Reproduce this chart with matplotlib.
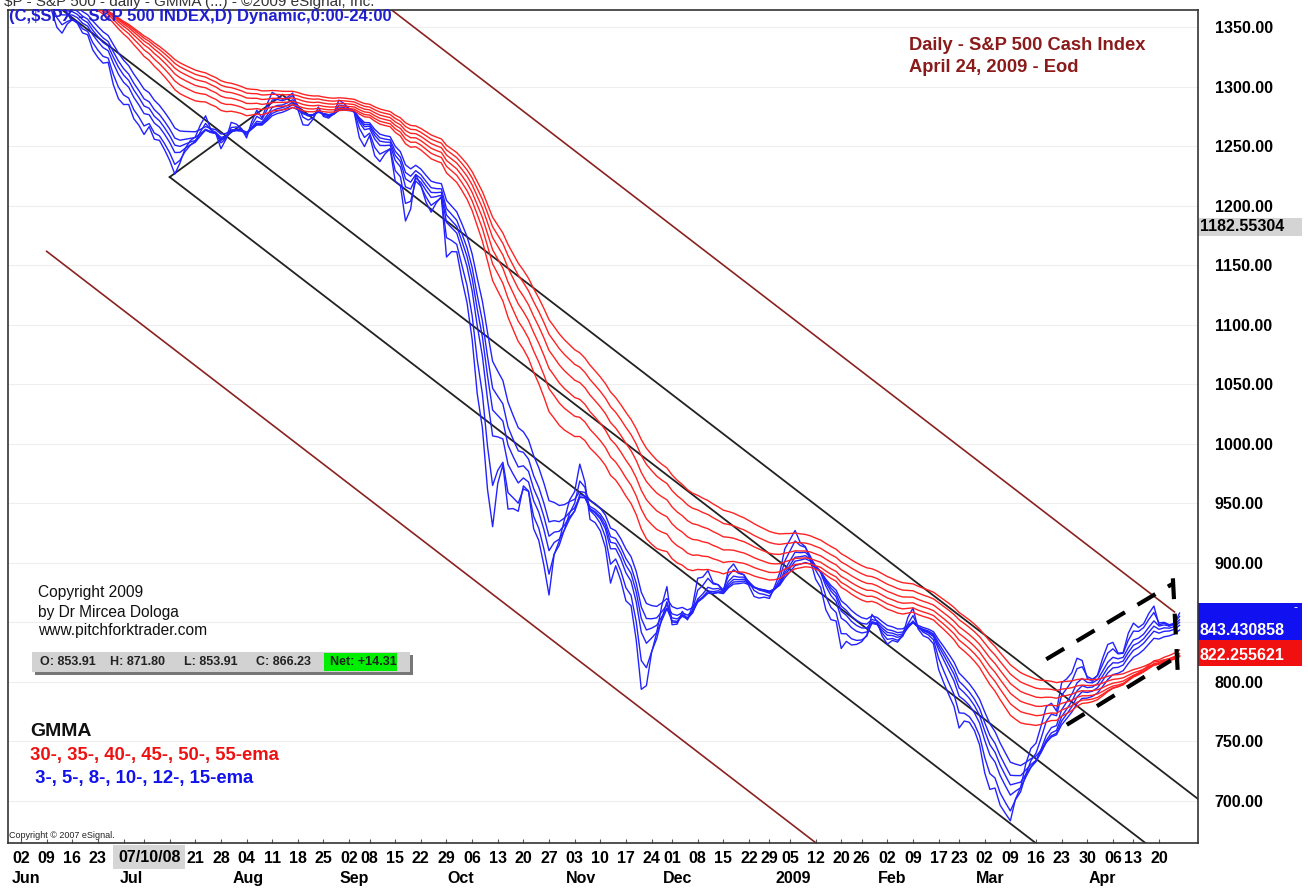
import matplotlib
matplotlib.use("Agg")
import matplotlib.pyplot as plt
import matplotlib.transforms as mtransforms
from matplotlib.patches import Rectangle
import numpy as np
import pandas as pd

plt.rcParams['font.family'] = ['Liberation Sans', 'DejaVu Sans']

# S&P 500 daily closes (read / estimated), Mar 3 2008 - Apr 24 2009
close_2008_mar = [1331, 1327, 1333, 1304, 1293, 1273, 1320, 1309, 1316, 1289,
                  1277, 1330, 1299, 1330, 1349, 1352, 1342, 1325, 1316, 1323]
close_2008_apr = [1370, 1368, 1370, 1370, 1373, 1365, 1355, 1360, 1333, 1329, 1334,
                  1365, 1366, 1390, 1388, 1376, 1380, 1388, 1398, 1397, 1391, 1386]
close_2008_may = [1409, 1414, 1407, 1418, 1392, 1397, 1389, 1404, 1403, 1409, 1424,
                  1426, 1426, 1413, 1391, 1394, 1375, 1385, 1390, 1399, 1400]
close_2008_jun = [1385, 1378, 1377, 1404, 1361, 1361, 1358, 1336, 1340, 1360, 1360,
                  1350, 1337, 1342, 1318, 1318, 1315, 1321, 1283, 1278, 1280]
close_2008_jul = [1285, 1261, 1262, 1252, 1273, 1245, 1254, 1239, 1229, 1215, 1245,
                  1260, 1261, 1261, 1278, 1283, 1253, 1257, 1235, 1264, 1284, 1267]
close_2008_aug = [1261, 1249, 1284, 1290, 1267, 1297, 1305, 1290, 1286, 1293, 1298,
                  1267, 1255, 1267, 1278, 1293, 1267, 1272, 1281, 1300, 1283]
close_2008_sep = [1277, 1275, 1236, 1242, 1268, 1225, 1232, 1250, 1252, 1193, 1214,
                  1157, 1207, 1255, 1208, 1189, 1186, 1210, 1213, 1106, 1166]
close_2008_oct = [1161, 1115, 1099, 1057, 996, 985, 910, 899, 1003, 998, 908, 946,
                  941, 986, 956, 897, 909, 877, 848, 941, 930, 954, 969]
close_2008_nov = [967, 1006, 953, 905, 931, 920, 899, 853, 912, 873, 851, 860, 807,
                  752, 800, 852, 858, 887, 896]
close_2008_dec = [816, 849, 870, 845, 876, 910, 889, 899, 873, 880, 869, 913, 904,
                  885, 888, 871, 863, 869, 872, 869, 890, 903]
close_2009_jan = [932, 927, 935, 907, 910, 890, 871, 872, 842, 844, 850, 805, 840,
                  828, 832, 836, 845, 874, 845, 826]
close_2009_feb = [825, 838, 832, 845, 869, 870, 827, 833, 835, 827, 789, 788, 779,
                  770, 743, 773, 765, 752, 735]
close_2009_mar = [700, 696, 712, 682, 683, 677, 720, 721, 751, 757, 753, 778, 795,
                  785, 769, 823, 806, 813, 832, 816, 788, 798]
close_2009_apr = [811, 834, 843, 835, 815, 825, 857, 858, 842, 852, 866, 870, 832,
                  851, 844, 852, 866.23]

holidays = ["2008-03-21", "2008-05-26", "2008-07-04", "2008-09-01", "2008-11-27",
            "2008-12-25", "2009-01-01", "2009-01-19", "2009-02-16", "2009-04-10"]
start_date = "2008-06-02"

red_spans = [30, 35, 40, 45, 50, 55]
blue_spans = [3, 5, 8, 10, 12, 15]

# pitchfork pivots: trading day index (0 = Jun 2) and price
fork_idx = [3, 29, 51]
fork_px = [1381, 1224, 1293]
warn_start = 5
warn_end = 225

# hand-drawn breakout channel (index, price)
chan_upper = [[200, 224.5], [819, 882]]
chan_lower = [[204, 224.3], [764, 818]]
chan_stop = [[224.7, 225.7], [887, 804]]

y_ticks = np.arange(700, 1351, 50)
ohlc_labels = ["O: 853.91", "H: 871.80", "L: 853.91", "C: 866.23"]
net_label = "Net: +14.31"
last_blue = 843.430858
last_red = 822.255621
cursor_price = 1182.55304
cursor_date = "07/10/08"
cursor_idx = 25

closes = (close_2008_mar + close_2008_apr + close_2008_may + close_2008_jun +
          close_2008_jul + close_2008_aug + close_2008_sep + close_2008_oct +
          close_2008_nov + close_2008_dec + close_2009_jan + close_2009_feb +
          close_2009_mar + close_2009_apr)
dates = pd.bdate_range("2008-03-03", "2009-04-24", freq="C", holidays=holidays)
s = pd.Series(closes, index=dates)
shown = dates >= pd.Timestamp(start_date)
d_shown = dates[shown]
x = np.arange(len(d_shown))

W, H = 1308, 888
fig = plt.figure(figsize=(W / 100, H / 100), dpi=100)
ax = fig.add_axes([8 / W, 45 / H, 1190 / W, 833 / H])
ax.set_xlim(-2.54, 229.6)
ax.set_ylim(664.7, 1364.3)

ax.grid(axis='y', color='#eeeeee', lw=0.8)
ax.set_axisbelow(True)

for n in blue_spans:
    ax.plot(x, s.ewm(span=n, adjust=False).mean()[shown].values, color='#2222ff', lw=1.0, zorder=3)
for n in red_spans:
    ax.plot(x, s.ewm(span=n, adjust=False).mean()[shown].values, color='#ff2222', lw=1.0, zorder=3)

# Andrews pitchfork
a_i, b_i, c_i = fork_idx
a_p, b_p, c_p = fork_px
m_i, m_p = (b_i + c_i) / 2, (b_p + c_p) / 2
slope = (m_p - a_p) / (m_i - a_i)
x_end = 235


def ray(i0, p0, i1=x_end):
    return [i0, i1], [p0, p0 + slope * (i1 - i0)]


ax.plot(*ray(a_i, a_p), color='#222222', lw=1.3, zorder=2)
ax.plot(*ray(b_i, b_p), color='#222222', lw=1.3, zorder=2)
ax.plot(*ray(c_i, c_p), color='#222222', lw=1.3, zorder=2)
ax.plot([b_i, c_i], [b_p, c_p], color='#222222', lw=1.3, zorder=2)
d = c_p - (a_p + slope * (c_i - a_i))
for k in (3, -3):
    p0 = a_p + slope * (warn_start - a_i) + k * d
    ax.plot(*ray(warn_start, p0, warn_end), color='#8b2222', lw=1.2, zorder=2)

for ln in (chan_upper, chan_lower, chan_stop):
    ax.plot(ln[0], ln[1], color='black', lw=3, dashes=(5, 3.5), zorder=4)

# axes styling
for sp in ax.spines.values():
    sp.set_color('#333333')
    sp.set_linewidth(1.2)
ax.yaxis.tick_right()
ax.set_yticks(y_ticks)
# 850 sits under the last-value boxes
ax.set_yticklabels(["" if v == 850 else f"{v:.2f}" for v in y_ticks], fontsize=11.5, fontweight='bold')
ax.tick_params(axis='y', length=0, pad=12)

# x axis: weekly ticks / labels
wk = pd.Series(x, index=d_shown)
week_first = wk.groupby(d_shown.to_period('W')).first()
month_first = wk.groupby(d_shown.to_period('M')).first()
ax.set_xticks(week_first.values)
ax.set_xticklabels([])
ax.tick_params(axis='x', direction='in', length=3, color='#555555')

tr = mtransforms.blended_transform_factory(ax.transData, fig.transFigure)
for per, i in week_first.items():
    if abs(i - cursor_idx) < 7:
        continue  # hidden behind the cursor date box
    ax.text(i, 1 - 858 / H, f"{d_shown[i].day:02d}", transform=tr, ha='center', va='center',
            fontsize=11.5, fontweight='bold', clip_on=False)
for per, i in month_first.items():
    lab = "2009" if (per.month == 1) else d_shown[i].strftime('%b')
    ax.text(i - 1.8, 1 - 878 / H, lab, transform=tr, ha='left', va='center',
            fontsize=11.5, fontweight='bold', clip_on=False)
ax.text(cursor_idx, 1 - 857 / H, cursor_date, transform=tr, ha='center', va='center', fontsize=11.5,
        fontweight='bold', zorder=10, clip_on=False,
        bbox=dict(boxstyle='square,pad=0.3', fc='#d6d6d6', ec='none'))

# right side value boxes
try_ = mtransforms.blended_transform_factory(ax.transAxes, ax.transData)
bw = 104 / 1190
ax.add_patch(Rectangle((1.0, 1174.5), bw, 15.5, transform=try_, fc='#d4d4d4', ec='none', clip_on=False))
ax.text(1.0 + 2 / 1190, cursor_price, f"{cursor_price:.5f}", transform=try_, ha='left', va='center',
        fontsize=11.5, fontweight='bold', clip_on=False)
ax.add_patch(Rectangle((1.0, 835.2), bw, 31.1, transform=try_, fc='#1010f0', ec='none', clip_on=False))
ax.add_patch(Rectangle((1.0, 813.4), bw, 21.8, transform=try_, fc='#f01010', ec='none', clip_on=False))
ax.text(1.0 + 2 / 1190, last_blue, f"{last_blue:.6f}", transform=try_, ha='left', va='center',
        fontsize=11.5, fontweight='bold', color='white', clip_on=False)
ax.text(1.0 + 2 / 1190, last_red, f"{last_red:.6f}", transform=try_, ha='left', va='center',
        fontsize=11.5, fontweight='bold', color='white', clip_on=False)
ax.text(1.0 + 100 / 1190, 862, "-", transform=try_, ha='right', va='center',
        fontsize=9, color='white', clip_on=False)


def fx(px):
    return px / W


def fy(py):
    return 1 - py / H


# header texts
fig.text(fx(4), fy(2), "$P - S&P 500 - daily - GMMA (...) - \u00a92009 eSignal, Inc.",
         fontsize=11, va='center', ha='left', color='#333333')
fig.text(fx(9), fy(17), "(C,$SPX - S&P 500 INDEX,D) Dynamic,0:00-24:00", fontsize=12,
         fontweight='bold', color='#1f1fd0', va='center', ha='left', zorder=10)
fig.text(fx(909), fy(45), "Daily - S&P 500 Cash Index", fontsize=13.2, fontweight='bold',
         color='#8b1a1a', va='center', ha='left')
fig.text(fx(909), fy(68), "April 24, 2009 - Eod", fontsize=13.2, fontweight='bold',
         color='#8b1a1a', va='center', ha='left')

for yy, t in zip([593, 612, 630], ["Copyright 2009", "by Dr Mircea Dologa", "www.pitchforktrader.com"]):
    fig.text(fx(38), fy(yy), t, fontsize=11.2, color='#111111', va='center', ha='left')

# OHLC strip
fig.add_artist(Rectangle((fx(35), fy(675)), fx(378), 20 / H, transform=fig.transFigure,
                         fc='#777777', ec='none'))
fig.add_artist(Rectangle((fx(32), fy(672)), fx(378), 20 / H, transform=fig.transFigure,
                         fc='#d2d2d2', ec='none'))
fig.add_artist(Rectangle((fx(324), fy(671)), fx(73), 18 / H, transform=fig.transFigure,
                         fc='#00ee00', ec='none'))
for xx, t in zip([40, 110, 184, 256], ohlc_labels):
    fig.text(fx(xx), fy(662), t, fontsize=9, fontweight='bold', color='#222222', va='center', ha='left')
fig.text(fx(330), fy(662), net_label, fontsize=9, fontweight='bold', color='#222222', va='center', ha='left')

fig.text(fx(30), fy(731), "GMMA", fontsize=14, fontweight='bold', color='#111111', va='center', ha='left')
fig.text(fx(30), fy(755), "30-, 35-, 40-, 45-, 50-, 55-ema", fontsize=13.3, fontweight='bold',
         color='#ee1111', va='center', ha='left')
fig.text(fx(30), fy(778), " 3-, 5-, 8-, 10-, 12-, 15-ema", fontsize=13.3, fontweight='bold',
         color='#1111ee', va='center', ha='left')
fig.text(fx(9), fy(835), "Copyright \u00a9 2007 eSignal.", fontsize=6.5, color='#222222', va='center', ha='left')

plt.savefig("out.png", dpi=100)
